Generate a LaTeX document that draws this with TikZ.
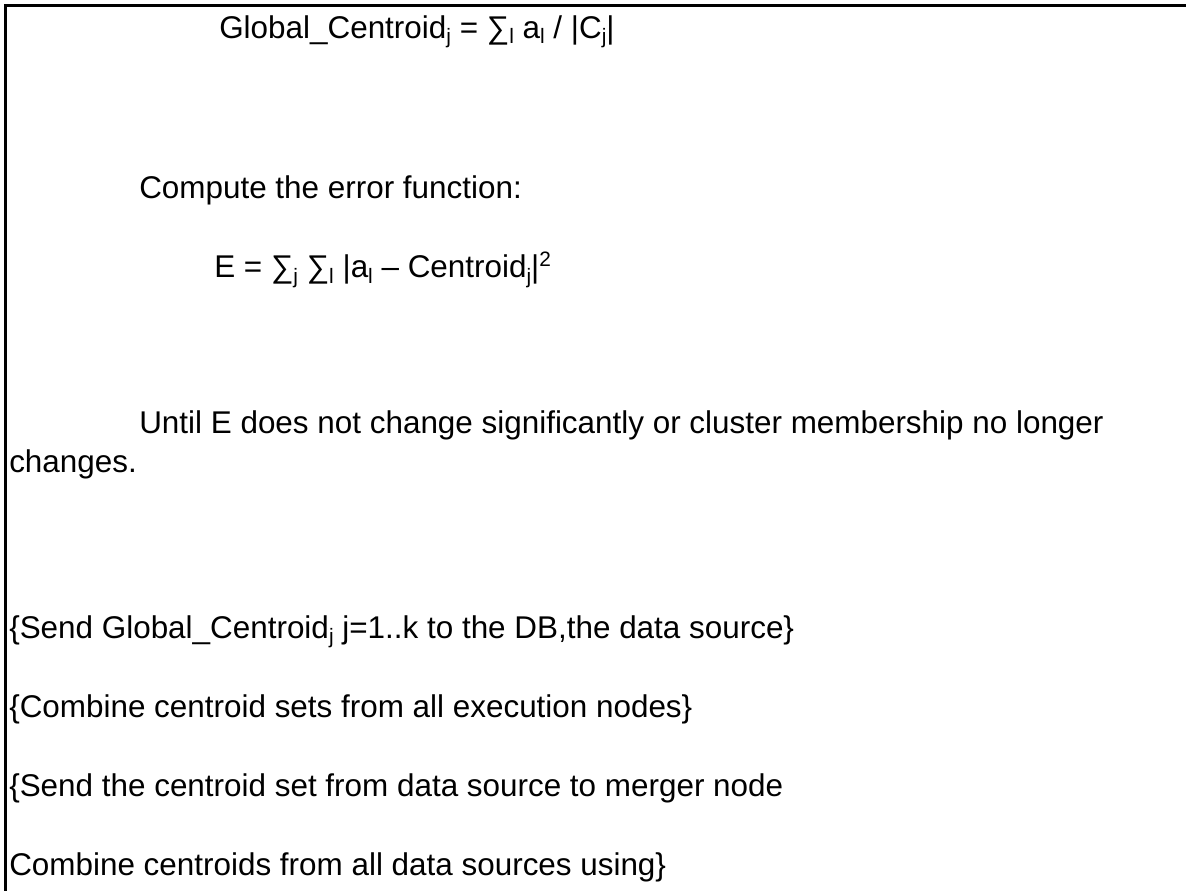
\documentclass[tikz,border=0pt]{standalone}
\usepackage{fontspec}
\setmainfont{Liberation Sans}
\usepackage{tikz}
\usetikzlibrary{positioning}

\newcommand{\lo}[1]{\raisebox{-1.8pt}{\fontsize{7.3}{8}\selectfont #1}}
\newcommand{\hi}[1]{\raisebox{4.2pt}{\fontsize{7.3}{8}\selectfont #1}}

\begin{document}
\begin{tikzpicture}[x=0.35pt,y=-0.35pt,line width=0.9pt,
  txt/.style={anchor=base west,inner sep=0pt,font=\fontsize{11}{13}\selectfont}]
  \useasboundingbox (0,0) rectangle (1186,891);
  % frame
  \draw (5.5,891) -- (5.5,5.5) -- (1186,5.5);
  %
  \node[txt] (glob)    at (218,38)  {Global\_Centroid\lo{j} = ∑\lo{l} a\lo{l} / |C\lo{j}|};
  \node[txt] (compute) at (138,198) {Compute the error function:};
  \node[txt] (err)     at (213,278) {E = ∑\lo{j} ∑\lo{l} |a\lo{l} – Centroid\lo{j}|\hi{2}};
  \node[txt] (until)   at (138,433) {Until E does not change significantly or cluster membership no longer};
  \node[txt] (chg)     at (8,472)   {changes.};
  \node[txt] (send)    at (8,638)   {\{Send Global\_Centroid\lo{j} j=1..k to the DB,the data source\}};
  \node[txt] (comb)    at (8,717)   {\{Combine centroid sets from all execution nodes\}};
  \node[txt] (merge)   at (8,796)   {\{Send the centroid set from data source to merger node};
  \node[txt] (using)   at (8,875)   {Combine centroids from all data sources using\}};
\end{tikzpicture}
\end{document}
